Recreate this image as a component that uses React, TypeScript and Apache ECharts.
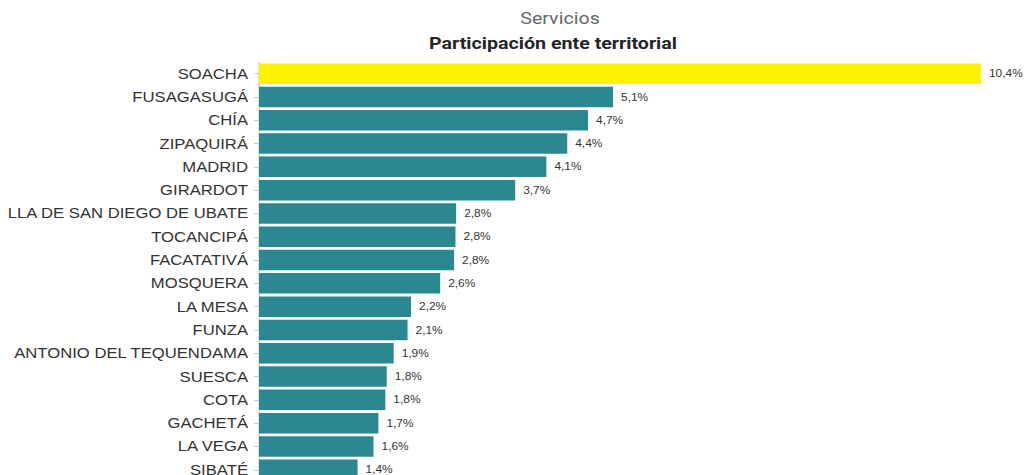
import React, { useEffect, useRef } from "react";
import * as echarts from "echarts";

const categories: string[] = [
  "SOACHA",
  "FUSAGASUGÁ",
  "CHÍA",
  "ZIPAQUIRÁ",
  "MADRID",
  "GIRARDOT",
  "LLA DE SAN DIEGO DE UBATE",
  "TOCANCIPÁ",
  "FACATATIVÁ",
  "MOSQUERA",
  "LA MESA",
  "FUNZA",
  "ANTONIO DEL TEQUENDAMA",
  "SUESCA",
  "COTA",
  "GACHETÁ",
  "LA VEGA",
  "SIBATÉ",
];

const values: number[] = [
  10.4, 5.1, 4.74, 4.44, 4.14, 3.69, 2.84, 2.83, 2.81, 2.61, 2.19, 2.14, 1.94,
  1.84, 1.82, 1.72, 1.65, 1.42,
];

const highlight = "SOACHA";
const mainTitle = "Servicios";
const subTitle = "Participación ente territorial";

// The reference is drawn horizontally stretched; render narrower and stretch.
const INNER_W = 860;
const SX = 1024 / INNER_W;

export default function App() {
  const ref = useRef<HTMLDivElement>(null);
  useEffect(() => {
    if (!ref.current) return;
    const chart = echarts.init(ref.current, undefined, { renderer: "svg" });
    const band = 23.3;
    chart.setOption({
      animation: false,
      title: [
        {
          text: mainTitle,
          left: 560 / SX - 5,
          top: 5,
          textAlign: "center",
          textStyle: {
            fontFamily: "Roboto",
            fontSize: 16.5,
            fontWeight: "normal",
            color: "#666666",
          },
        },
        {
          text: subTitle,
          left: 553 / SX - 5,
          top: 30,
          textAlign: "center",
          textStyle: {
            fontFamily: "Roboto",
            fontSize: 16.5,
            fontWeight: "bold",
            color: "#252525",
          },
        },
      ],
      grid: {
        left: 259 / SX,
        right: 43 / SX,
        top: 62,
        height: band * categories.length,
        containLabel: false,
        outerBoundsMode: "none",
      },
      xAxis: {
        type: "value",
        min: 0,
        max: 10.4,
        show: false,
        splitLine: { show: false },
      },
      yAxis: {
        type: "category",
        data: categories,
        inverse: true,
        axisLine: { show: true, lineStyle: { color: "#cccccc", width: 1 } },
        axisTick: {
          show: true,
          alignWithLabel: true,
          length: 5 / SX,
          lineStyle: { color: "#cccccc" },
        },
        axisLabel: {
          color: "#333333",
          fontFamily: "Liberation Sans",
          fontSize: 14,
          margin: 11 / SX,
        },
      },
      series: [
        {
          type: "bar",
          data: values.map((v, i) => ({
            value: v,
            itemStyle: {
              color: categories[i] === highlight ? "#fff200" : "#2b8891",
            },
          })),
          barCategoryGap: "12%",
          label: {
            show: true,
            position: "right",
            distance: 8 / SX,
            color: "#333333",
            fontFamily: "Liberation Sans",
            fontSize: 10,
            formatter: (p: any) => p.value.toFixed(1).replace(".", ",") + "%",
          },
        },
      ],
    });
    return () => chart.dispose();
  }, []);
  return (
    <div
      style={{
        position: "fixed",
        left: 0,
        top: 0,
        width: 1024,
        height: 475,
        overflow: "hidden",
        background: "#ffffff",
      }}
    >
      <div
        ref={ref}
        style={{
          width: INNER_W,
          height: 475,
          transform: `scaleX(${SX})`,
          transformOrigin: "0 0",
        }}
      />
    </div>
  );
}
